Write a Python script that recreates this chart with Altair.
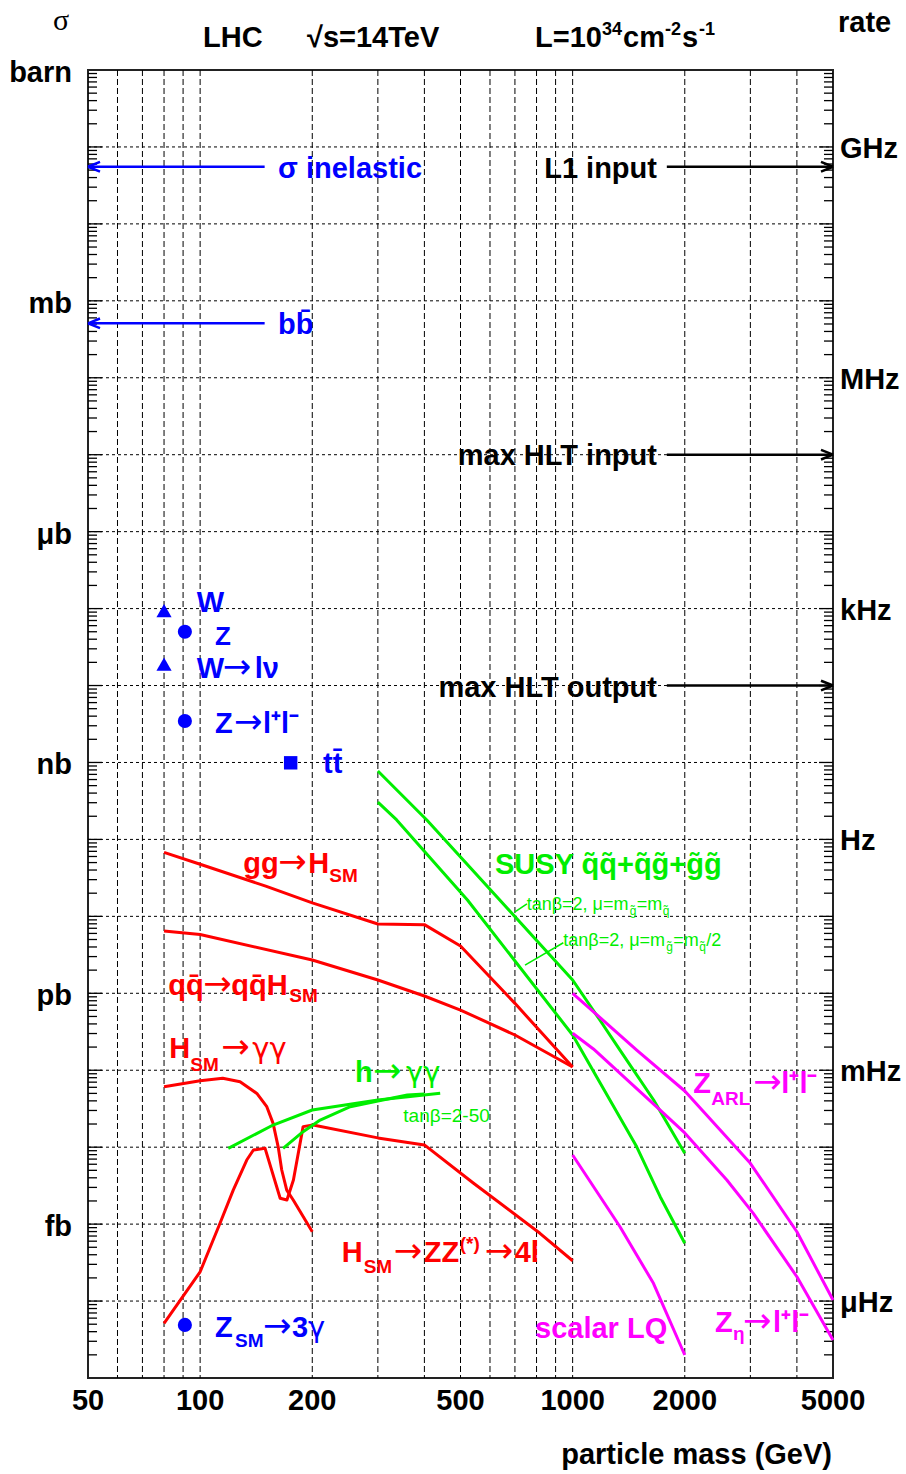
import altair as alt
import pandas as pd

W, H = 745, 1308
SANS = "Liberation Sans, Arial, Helvetica, sans-serif"
SERIF = "Liberation Serif, Times New Roman, serif"
ARROWF = "DejaVu Sans, sans-serif"
GREEKF = "DejaVu Sans, sans-serif"
RED, GREEN, BLUE, MAGENTA, BLACK = "#ff0000", "#00ee00", "#0000ff", "#ff00ff", "#000000"

# ---------------- axis extent (mass in GeV, cross-section in barn) ----------------
mass_domain = [50, 5000]
sigma_domain = [1e-17, 1.0]

# ---------------- curves ----------------
gg_H_mass = [80, 100, 150, 200, 300, 400, 500, 700, 1000]
gg_H_sigma = [6.8e-11, 4.75e-11, 2.47e-11, 1.5e-11, 7.95e-12, 7.8e-12, 4.11e-12, 7.4e-13, 1.10e-13]

qqH_mass = [80, 100, 200, 300, 400, 500, 700, 1000]
qqH_sigma = [6.45e-12, 5.8e-12, 2.71e-12, 1.49e-12, 9.22e-13, 6.06e-13, 2.87e-13, 1.10e-13]

Hgg_mass = [80, 100, 115, 128, 142, 151, 157, 162, 165.6, 170.8, 177.8, 189.2, 200]
Hgg_sigma = [6.1e-14, 7.3e-14, 7.85e-14, 7.1e-14, 5.0e-14, 3.36e-14, 2.04e-14, 1.01e-14,
             5.05e-15, 2.77e-15, 2.06e-15, 1.25e-15, 7.96e-16]

HZZ_mass = [80, 100, 113, 122.7, 133.4, 139, 149.4, 164, 171, 178, 189, 201, 300, 400, 541, 817, 1000]
HZZ_sigma = [5.14e-17, 2.4e-16, 1.02e-15, 2.77e-15, 6.81e-15, 9.19e-15, 9.66e-15, 2.17e-15,
             2.06e-15, 3.74e-15, 1.85e-14, 1.94e-14, 1.32e-14, 1.07e-14, 3.42e-15, 7.6e-16, 3.34e-16]

hgg_a_mass = [119, 157, 200, 300, 441]
hgg_a_sigma = [9.66e-15, 1.94e-14, 3.04e-14, 4.1e-14, 5.01e-14]

hgg_b_mass = [167, 189, 210, 253, 300, 360, 400]
hgg_b_sigma = [9.66e-15, 1.59e-14, 2.25e-14, 3.36e-14, 3.98e-14, 4.76e-14, 4.91e-14]

susy_a_mass = [300, 406, 1000, 1183, 1340, 1650, 2000]
susy_a_sigma = [7.74e-10, 1.79e-10, 1.49e-12, 4.5e-13, 1.83e-13, 4.1e-14, 8.32e-15]

susy_b_mass = [300, 337, 522, 1000, 1486, 1718, 2000]
susy_b_sigma = [3.06e-10, 1.79e-10, 1.63e-11, 2.87e-13, 1.01e-14, 2.27e-15, 5.63e-16]

zarl_mass = [1000, 1486, 2000, 3000, 4000, 5000]
zarl_sigma = [1.0e-12, 1.83e-13, 5.37e-14, 6.17e-15, 7.96e-16, 1.03e-16]

zeta_mass = [1000, 1137, 1718, 2000, 2594, 3055, 4000, 5000]
zeta_sigma = [3.02e-13, 1.89e-13, 3.04e-14, 1.53e-14, 3.74e-15, 1.38e-15, 2.07e-16, 3.12e-17]

lq_mass = [1000, 1340, 1648, 2000]
lq_sigma = [7.91e-15, 9.25e-16, 1.70e-16, 1.99e-17]

# ---------------- single points ----------------
triangle_mass = [80, 80]                 # W total, W -> l nu
triangle_sigma = [9.4e-8, 1.9e-8]
circle_mass = [91, 91, 91]               # Z total, Z -> ll, Z -> 3 gamma
circle_sigma = [5.0e-8, 3.46e-9, 4.9e-17]
square_mass = [175]                      # ttbar
square_sigma = [9.9e-10]

# ---------------- horizontal arrows ----------------
left_arrow_from = [149, 149]             # sigma inelastic, bbbar
left_arrow_sigma = [5.53e-2, 5.1e-4]
right_arrow_from = [1790, 1790, 1790]    # L1 input, max HLT input, max HLT output
right_arrow_sigma = [5.53e-2, 1e-5, 1e-8]

# ---------------- axis ticks / labels ----------------
grid_mass = [60, 70, 80, 90, 100, 200, 300, 400, 500, 600, 700, 800, 900, 1000, 2000, 3000, 4000]
decades = [1e-16, 1e-15, 1e-14, 1e-13, 1e-12, 1e-11, 1e-10, 1e-9, 1e-8, 1e-7,
           1e-6, 1e-5, 1e-4, 1e-3, 1e-2, 1e-1]
minor = [m * 10.0 ** k for k in range(-17, 0) for m in range(2, 10)]
sigma_units = ["barn", "mb", "μb", "nb", "pb", "fb"]
sigma_unit_vals = [1.0, 1e-3, 1e-6, 1e-9, 1e-12, 1e-15]
rate_units = ["GHz", "MHz", "kHz", "Hz", "mHz", "μHz"]
rate_unit_vals = [1e-1, 1e-4, 1e-7, 1e-10, 1e-13, 1e-16]
mass_ticks = [50, 100, 200, 500, 1000, 2000, 5000]

xs = alt.Scale(type="log", domain=mass_domain, nice=False)
ys = alt.Scale(type="log", domain=sigma_domain, nice=False)


def X(f):
    return alt.X(f, type="quantitative", scale=xs, axis=None)


def Y(f):
    return alt.Y(f, type="quantitative", scale=ys, axis=None)


layers = []

# frame
layers.append(alt.Chart(pd.DataFrame({"a": [0]})).mark_rect(
    fillOpacity=0, stroke="#222", strokeWidth=2).encode(
    x=alt.value(0), x2=alt.value(W), y=alt.value(0), y2=alt.value(H)))

# grid
layers.append(alt.Chart(pd.DataFrame({"g": grid_mass})).mark_rule(
    color="black", strokeWidth=1, strokeDash=[6, 3]).encode(
    x=X("g"), y=alt.value(0), y2=alt.value(H)))
layers.append(alt.Chart(pd.DataFrame({"g": decades})).mark_rule(
    color="black", strokeWidth=1, strokeDash=[3, 3]).encode(
    y=Y("g"), x=alt.value(0), x2=alt.value(W)))

# ticks on left and right axes (pointing inwards)
for vals, ln in ((decades, 14), (minor, 9)):
    d = pd.DataFrame({"g": vals})
    layers.append(alt.Chart(d).mark_rule(color="black", strokeWidth=1.3).encode(
        y=Y("g"), x=alt.value(0), x2=alt.value(ln)))
    layers.append(alt.Chart(d).mark_rule(color="black", strokeWidth=1.3).encode(
        y=Y("g"), x=alt.value(W - ln), x2=alt.value(W)))

# curves
curves = [
    ("gg->H", gg_H_mass, gg_H_sigma, RED),
    ("qq->qqH", qqH_mass, qqH_sigma, RED),
    ("H->gg", Hgg_mass, Hgg_sigma, RED),
    ("H->ZZ", HZZ_mass, HZZ_sigma, RED),
    ("h->gg a", hgg_a_mass, hgg_a_sigma, GREEN),
    ("h->gg b", hgg_b_mass, hgg_b_sigma, GREEN),
    ("SUSY a", susy_a_mass, susy_a_sigma, GREEN),
    ("SUSY b", susy_b_mass, susy_b_sigma, GREEN),
    ("Z_ARL", zarl_mass, zarl_sigma, MAGENTA),
    ("Z_eta", zeta_mass, zeta_sigma, MAGENTA),
    ("LQ", lq_mass, lq_sigma, MAGENTA),
]
rows = []
for name, ms, ss, _ in curves:
    for i, (m, s) in enumerate(zip(ms, ss)):
        rows.append({"curve": name, "m": m, "s": s, "i": i})
cdf = pd.DataFrame(rows)
layers.append(alt.Chart(cdf).mark_line(strokeWidth=3, strokeJoin="round").encode(
    x=X("m"), y=Y("s"), order="i:Q",
    color=alt.Color("curve:N", legend=None,
                    scale=alt.Scale(domain=[c[0] for c in curves], range=[c[3] for c in curves]))))

# annotation connector lines for the SUSY labels
conn = pd.DataFrame({"m1": [700, 745], "m2": [754, 944],
                     "s1": [1.14e-11, 2.33e-12], "s2": [1.45e-11, 4.54e-12]})
layers.append(alt.Chart(conn).mark_rule(color=GREEN, strokeWidth=1.5).encode(
    x=X("m1"), x2="m2:Q", y=Y("s1"), y2="s2:Q"))

# points
layers.append(alt.Chart(pd.DataFrame({"m": triangle_mass, "s": triangle_sigma})).mark_point(
    shape="triangle-up", filled=True, size=230, color=BLUE, opacity=1).encode(x=X("m"), y=Y("s")))
layers.append(alt.Chart(pd.DataFrame({"m": circle_mass, "s": circle_sigma})).mark_point(
    shape="circle", filled=True, size=200, color=BLUE, opacity=1).encode(x=X("m"), y=Y("s")))
layers.append(alt.Chart(pd.DataFrame({"m": square_mass, "s": square_sigma})).mark_point(
    shape="square", filled=True, size=180, color=BLUE, opacity=1).encode(x=X("m"), y=Y("s")))

# arrows
la = pd.DataFrame({"m1": [mass_domain[0]] * 2, "m2": left_arrow_from, "s": left_arrow_sigma})
ra = pd.DataFrame({"m1": right_arrow_from, "m2": [mass_domain[1]] * 3, "s": right_arrow_sigma})
layers.append(alt.Chart(la).mark_rule(color=BLUE, strokeWidth=2.5).encode(x=X("m1"), x2="m2:Q", y=Y("s")))
layers.append(alt.Chart(ra).mark_rule(color=BLACK, strokeWidth=2.5).encode(x=X("m1"), x2="m2:Q", y=Y("s")))
layers.append(alt.Chart(la).mark_point(shape="M0,0L2,-0.8M0,0L2,0.8", size=144, filled=False,
                                       strokeWidth=2.5, color=BLUE, opacity=1).encode(x=X("m1"), y=Y("s")))
layers.append(alt.Chart(ra).mark_point(shape="M0,0L-2,-0.8M0,0L-2,0.8", size=144, filled=False,
                                       strokeWidth=2.5, color=BLACK, opacity=1).encode(x=X("m2"), y=Y("s")))

# ---------------- annotations (anchor in data units, segments offset in px) ----------------
B, N = "bold", "normal"
A = "→"
ann = [
    # text, mass, sigma, colour, size, weight, align, dx, dy[, font]
    ("σ inelastic", 161.9, 3.95e-2, BLUE, 29, B, "left", 0, 0),
    ("bb\u0304", 161.9, 3.7e-4, BLUE, 29, B, "left", 0, 0),
    ("L1 input", 1684, 3.95e-2, BLACK, 29, B, "right", 0, 0),
    ("max HLT input", 1684, 7.35e-6, BLACK, 29, B, "right", 0, 0),
    ("max HLT output", 1684, 7.09e-9, BLACK, 29, B, "right", 0, 0),
    ("W", 97.9, 9.03e-8, BLUE, 29, B, "left", 0, 0),
    ("Z", 109.6, 3.36e-8, BLUE, 26, B, "left", 0, 0),
    ("W", 97.9, 1.25e-8, BLUE, 29, B, "left", 0, 0),
    (A, 97.9, 1.25e-8, BLUE, 34, N, "left", 26, 0, ARROWF),
    ("lν", 97.9, 1.25e-8, BLUE, 29, B, "left", 58, 0),
    ("Z", 109.6, 2.44e-9, BLUE, 29, B, "left", 0, 0),
    (A, 109.6, 2.44e-9, BLUE, 34, N, "left", 19, 0, ARROWF),
    ("l⁺l⁻", 109.6, 2.44e-9, BLUE, 29, B, "left", 48, 0),
    ("tt\u0304", 213.7, 7.3e-10, BLUE, 29, B, "left", 0, 0),
    ("gg", 130.6, 3.66e-11, RED, 29, B, "left", 0, 0),
    (A, 130.6, 3.66e-11, RED, 34, N, "left", 35, 0, ARROWF),
    ("H", 130.6, 3.66e-11, RED, 29, B, "left", 65, 0),
    ("SM", 130.6, 3.66e-11, RED, 19, B, "left", 86, 9),
    ("qq\u0304", 82.15, 9.5e-13, RED, 29, B, "left", 0, 0),
    (A, 82.15, 9.5e-13, RED, 34, N, "left", 35, 0, ARROWF),
    ("qq\u0304H", 82.15, 9.5e-13, RED, 29, B, "left", 63, 0),
    ("SM", 82.15, 9.5e-13, RED, 19, B, "left", 121, 7),
    ("H", 82.65, 1.44e-13, RED, 29, B, "left", 0, 0),
    ("SM", 82.65, 1.44e-13, RED, 19, B, "left", 21, 13),
    (A, 82.65, 1.44e-13, RED, 34, N, "left", 52, 0, ARROWF),
    ("γγ", 82.65, 1.44e-13, RED, 29, N, "left", 83, 0, GREEKF),
    ("h", 260.5, 7.1e-14, GREEN, 29, B, "left", 0, 0),
    (A, 260.5, 7.1e-14, GREEN, 34, N, "left", 18, 0, ARROWF),
    ("γγ", 260.5, 7.1e-14, GREEN, 29, N, "left", 51, 0, GREEKF),
    ("tanβ=2-50", 351.1, 2.12e-14, GREEN, 19, N, "left", 0, 0),
    ("H", 239.9, 3.25e-16, RED, 29, B, "left", 0, 0),
    ("SM", 239.9, 3.25e-16, RED, 19, B, "left", 22, 11),
    (A, 239.9, 3.25e-16, RED, 34, N, "left", 52, 0, ARROWF),
    ("ZZ", 239.9, 3.25e-16, RED, 29, B, "left", 82, 0),
    ("(*)", 239.9, 3.25e-16, RED, 19, B, "left", 118, -12),
    (A, 239.9, 3.25e-16, RED, 34, N, "left", 143, 0, ARROWF),
    ("4l", 239.9, 3.25e-16, RED, 29, B, "left", 173, 0),
    ("Z", 109.6, 3.44e-17, BLUE, 29, B, "left", 0, 0),
    ("SM", 109.6, 3.44e-17, BLUE, 19, B, "left", 20, 10),
    (A, 109.6, 3.44e-17, BLUE, 34, N, "left", 48, 0, ARROWF),
    ("3", 109.6, 3.44e-17, BLUE, 29, B, "left", 77, 0),
    ("γ", 109.6, 3.44e-17, BLUE, 29, N, "left", 93, 0, GREEKF),
    ("SUSY q\u0303q\u0303+q\u0303g\u0303+g\u0303g\u0303", 618.9, 3.55e-11, GREEN, 29, B, "left", 0, 0),
    ("tanβ=2, μ=m", 752.8, 1.21e-11, GREEN, 18, N, "left", 0, 0),
    ("g\u0303", 752.8, 1.21e-11, GREEN, 12, N, "left", 103, 5),
    ("=m", 752.8, 1.21e-11, GREEN, 18, N, "left", 110, 0),
    ("q\u0303", 752.8, 1.21e-11, GREEN, 12, N, "left", 136, 5),
    ("tanβ=2, μ=m", 943.9, 4.12e-12, GREEN, 18, N, "left", 0, 0),
    ("g\u0303", 943.9, 4.12e-12, GREEN, 12, N, "left", 103, 5),
    ("=m", 943.9, 4.12e-12, GREEN, 18, N, "left", 110, 0),
    ("q\u0303", 943.9, 4.12e-12, GREEN, 12, N, "left", 136, 5),
    ("/2", 943.9, 4.12e-12, GREEN, 18, N, "left", 143, 0),
    ("Z", 2109, 5.01e-14, MAGENTA, 29, B, "left", 0, 0),
    ("ARL", 2109, 5.01e-14, MAGENTA, 19, B, "left", 18, 12),
    (A, 2109, 5.01e-14, MAGENTA, 34, N, "left", 60, 0, ARROWF),
    ("l⁺l⁻", 2109, 5.01e-14, MAGENTA, 29, B, "left", 88, 0),
    ("scalar LQ", 792.5, 3.31e-17, MAGENTA, 29, B, "left", 0, 0),
    ("Z", 2412, 4.0e-17, MAGENTA, 29, B, "left", 0, 0),
    ("η", 2412, 4.0e-17, MAGENTA, 19, B, "left", 18, 8),
    (A, 2412, 4.0e-17, MAGENTA, 34, N, "left", 28, 0, ARROWF),
    ("l⁺l⁻", 2412, 4.0e-17, MAGENTA, 29, B, "left", 58, 0),
]
for entry in ann:
    t, m, s, col, size, wt, al, dx, dy = entry[:9]
    fnt = entry[9] if len(entry) > 9 else SANS
    layers.append(alt.Chart(pd.DataFrame({"m": [m], "s": [s], "t": [t]})).mark_text(
        align=al, baseline="alphabetic", dx=dx, dy=dy, fontSize=size, fontWeight=wt,
        font=fnt, color=col).encode(x=X("m"), y=Y("s"), text="t:N"))

# ---------------- axis labels ----------------
layers.append(alt.Chart(pd.DataFrame({"v": sigma_unit_vals, "t": sigma_units})).mark_text(
    align="right", baseline="alphabetic", dy=12, fontSize=29, fontWeight="bold", font=SANS,
    color="black").encode(y=Y("v"), x=alt.value(-16), text="t:N"))
layers.append(alt.Chart(pd.DataFrame({"v": rate_unit_vals, "t": rate_units})).mark_text(
    align="left", baseline="alphabetic", dy=11, fontSize=29, fontWeight="bold", font=SANS,
    color="black").encode(y=Y("v"), x=alt.value(W + 7), text="t:N"))
layers.append(alt.Chart(pd.DataFrame({"v": mass_ticks, "t": [str(v) for v in mass_ticks]})).mark_text(
    align="center", baseline="alphabetic", fontSize=29, fontWeight="bold", font=SANS,
    color="black").encode(x=X("v"), y=alt.value(H + 32), text="t:N"))

# titles / header
header = [
    # text, x, y, size, weight, align, font
    ("particle mass (GeV)", W - 1, H + 86, 29, B, "right", SANS),
    ("σ", -27, -40, 30, N, "center", SERIF),
    ("rate", W + 5, -38, 29, B, "left", SANS),
    ("LHC", 115, -23, 29, B, "left", SANS),
    ("√s=14TeV", 219, -23, 29, B, "left", SANS),
    ("L=10", 447, -23, 29, B, "left", SANS),
    ("34", 514, -35, 18, B, "left", SANS),
    ("cm", 535, -23, 29, B, "left", SANS),
    ("-2", 577, -35, 18, B, "left", SANS),
    ("s", 594, -23, 29, B, "left", SANS),
    ("-1", 611, -35, 18, B, "left", SANS),
]
for t, x, y, size, wt, al, fnt in header:
    layers.append(alt.Chart(pd.DataFrame({"t": [t]})).mark_text(
        align=al, baseline="alphabetic", fontSize=size, fontWeight=wt, font=fnt,
        color="black").encode(x=alt.value(x), y=alt.value(y), text="t:N"))

chart = alt.layer(*layers).properties(
    width=W, height=H,
    padding={"left": 88, "top": 70, "right": 73, "bottom": 96},
    autosize=alt.AutoSizeParams(type="none"),
).configure_view(stroke=None)

chart.save("out.html", embed_options={"renderer": "svg", "actions": False})
